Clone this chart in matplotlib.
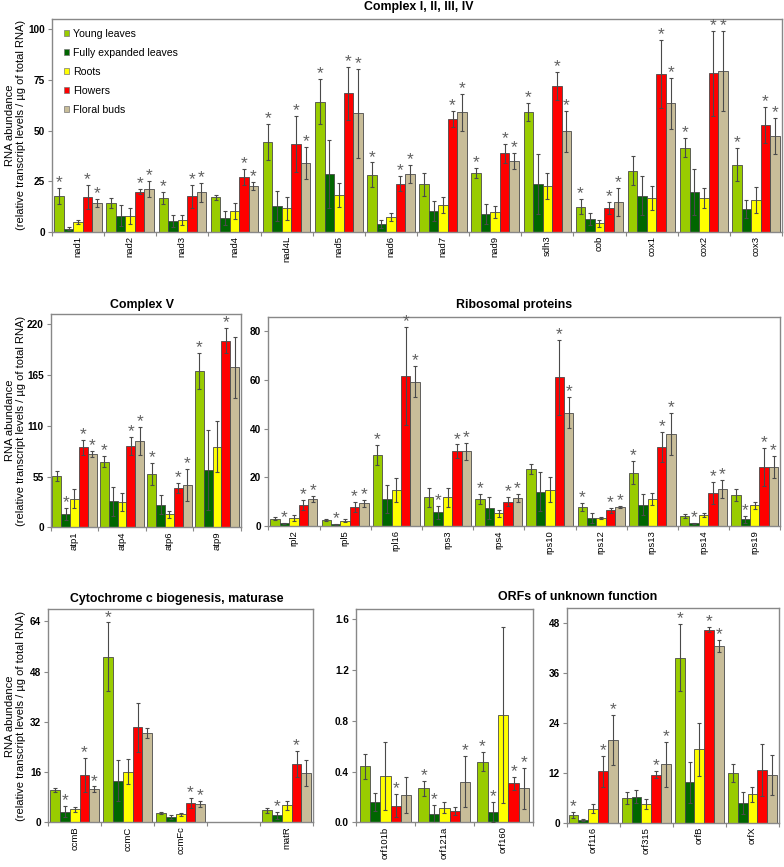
import numpy as np
import matplotlib
matplotlib.use("Agg")
import matplotlib.pyplot as plt
from matplotlib.patches import Patch
from matplotlib import font_manager

plt.rcParams['font.family'] = ['Liberation Sans', 'DejaVu Sans']

tissues = ['Young leaves', 'Fully expanded leaves', 'Roots', 'Flowers', 'Floral buds']
colors = ['#99cc00', '#006600', '#ffff00', '#ff0000', '#c8bd99']

# ---- Complex I, II, III, IV ----
c1_genes = ['nad1', 'nad2', 'nad3', 'nad4', 'nad4L', 'nad5', 'nad6', 'nad7', 'nad9',
            'sdh3', 'cob', 'cox1', 'cox2', 'cox3']
c1_mean = [[17.6, 1.5, 4.8, 17.3, 14.0], [14.0, 8.0, 7.7, 19.8, 20.9],
           [16.6, 5.1, 5.8, 17.5, 19.4], [17.1, 6.8, 10.4, 27.2, 22.6],
           [44.3, 12.7, 11.5, 43.3, 33.9], [64.3, 28.3, 18.0, 68.4, 58.6],
           [28.2, 4.0, 7.1, 23.6, 28.5], [23.4, 10.4, 13.0, 55.5, 59.0],
           [28.8, 8.9, 9.6, 38.7, 35.1], [59.1, 23.6, 22.4, 72.0, 49.6],
           [12.4, 6.1, 4.1, 11.7, 14.7], [30.1, 17.8, 16.8, 77.9, 63.4],
           [41.5, 19.6, 16.5, 78.3, 79.4], [33.1, 11.2, 15.7, 52.6, 47.3]]
c1_err = [[4, 0.8, 1, 6, 2], [2.5, 5, 4, 1.2, 4], [3, 3, 2.5, 5.7, 4.6],
          [1.2, 3.6, 4, 4, 1.8], [9, 7.5, 5.5, 14, 7.8], [11, 16.8, 6, 13, 22],
          [6, 2, 2, 3.7, 4.5], [5.7, 5, 4, 4, 9], [2.5, 5, 3, 4.8, 4],
          [4.3, 15, 6.4, 7, 10], [3.6, 3, 1.8, 2.8, 7], [7.2, 9.5, 6, 17, 12.7],
          [4.6, 11.5, 5, 21, 20], [8.2, 4.5, 6.5, 8.8, 8.8]]
c1_sig = ['10011', '00011', '10011', '00011', '10011', '10011', '10011', '00011',
          '10011', '10011', '10011', '00011', '10011', '10011']

# ---- Complex V ----
c5_genes = ['atp1', 'atp4', 'atp6', 'atp9']
c5_mean = [[55.6, 14.4, 31.0, 86.7, 79.5], [71.2, 28.2, 27.8, 88.1, 93.6],
           [58.2, 24.2, 14.1, 43.0, 45.9], [169.8, 62.1, 87.4, 202.3, 173.4]]
c5_err = [[5.4, 6.3, 10, 8.3, 2.9], [6, 15.5, 9.6, 10, 14.8],
          [12, 10.3, 4, 5.4, 17.7], [19.5, 43, 28, 13.5, 33]]
c5_sig = ['01011', '10011', '10011', '10010']

# ---- Ribosomal proteins ----
rib_genes = ['rpl2', 'rpl5', 'rpl16', 'rps3', 'rps4', 'rps10', 'rps12', 'rps13', 'rps14', 'rps19']
rib_mean = [[3.0, 1.1, 3.4, 8.6, 11.2], [2.5, 0.7, 2.1, 7.7, 9.3],
            [29.2, 11.1, 14.8, 61.6, 59.3], [11.8, 5.6, 11.8, 30.8, 30.7],
            [11.0, 7.4, 5.2, 10.0, 11.4], [23.3, 14.1, 14.9, 61.1, 46.6],
            [7.7, 3.3, 3.2, 6.4, 7.8], [21.9, 8.8, 11.1, 32.5, 37.8],
            [4.0, 1.1, 4.5, 13.6, 15.1], [12.6, 2.7, 8.5, 24.2, 24.1]]
rib_err = [[0.5, 0.3, 1.2, 2, 1.3], [0.4, 0.2, 0.6, 2.1, 1.4], [4.2, 5.8, 4.9, 20, 6.4],
           [3.8, 2.6, 4, 2.7, 3.6], [2, 4.4, 1.4, 1.8, 1.7], [2, 7.9, 5.1, 15.3, 6.4],
           [1.7, 1.9, 0.5, 0.9, 0.4], [4.8, 4.2, 2.4, 6.2, 8.7], [0.8, 0.3, 0.7, 4.6, 3.8],
           [2.5, 1.6, 1.5, 7.8, 4.5]]
rib_sig = ['01011', '01011', '10011', '01011', '10011', '00011', '10011', '10011',
           '01011', '01011']

# ---- Cytochrome c biogenesis, maturase (one empty slot) ----
cyt_genes = ['ccmB', 'ccmC', 'ccmFc', '', 'matR']
cyt_mean = [[10.2, 3.4, 4.1, 15.1, 10.5], [52.7, 13.2, 16.1, 30.2, 28.3],
            [3.1, 1.7, 2.5, 6.0, 5.9], [np.nan] * 5, [3.9, 2.2, 5.4, 18.5, 15.6]]
cyt_err = [[0.6, 1.7, 0.7, 5.3, 0.9], [10.9, 6.5, 4, 7.9, 1.6],
           [0.3, 0.7, 0.5, 1.6, 1.0], [np.nan] * 5, [0.8, 1.2, 1.5, 4.2, 4.2]]
cyt_sig = ['01011', '10000', '00011', '00000', '01010']

# ---- ORFs of unknown function ----
orf1_genes = ['orf101b', 'orf121a', 'orf160']
orf1_mean = [[0.44, 0.163, 0.365, 0.13, 0.215], [0.268, 0.066, 0.116, 0.089, 0.32],
             [0.478, 0.081, 0.846, 0.307, 0.268]]
orf1_err = [[0.095, 0.07, 0.27, 0.09, 0.14], [0.06, 0.07, 0.045, 0.035, 0.2],
            [0.077, 0.08, 0.69, 0.05, 0.16]]
orf1_sig = ['00010', '11001', '11011']

orf2_genes = ['orf116', 'orf315', 'orfB', 'orfX']
orf2_mean = [[1.77, 0.64, 3.4, 12.4, 19.9], [5.9, 6.3, 4.4, 11.6, 14.1],
             [39.7, 9.7, 17.7, 46.4, 42.5], [12.0, 4.7, 6.9, 12.7, 11.5]]
orf2_err = [[0.7, 0.3, 1.1, 3.7, 6], [1.4, 1.6, 1.2, 0.8, 5.4],
            [8.1, 4.9, 6.4, 0.6, 1.5], [2.1, 2.6, 1.8, 6.2, 4.8]]
orf2_sig = ['10011', '00011', '10011', '00000']

ylabel_txt = 'RNA abundance\n(relative transcript levels / \u00b5g of total RNA)'

names = {f.name for f in font_manager.fontManager.ttflist}
if 'Liberation Sans Narrow' in names:
    xlab_font = dict(family='Liberation Sans Narrow', fontsize=8.2)
else:
    xlab_font = dict(family='Liberation Sans', fontsize=6.8)

W, H = 784, 867
fig = plt.figure(figsize=(W / 100, H / 100), dpi=100)


def px_axes(l, t, r, b):
    return fig.add_axes([l / W, 1 - b / H, (r - l) / W, (b - t) / H])


def panel(ax, genes, means, errs, sigs, ytop, yticks, fmt, group_w):
    n = len(genes)
    x = np.arange(n)
    bw = group_w / 5
    means = np.array(means, dtype=float)
    errs = np.array(errs, dtype=float)
    for j in range(5):
        xs = x + (j - 2) * bw
        ax.bar(xs, means[:, j], bw, color=colors[j], edgecolor='#4a4a4a',
               linewidth=0.6, zorder=2)
        ax.errorbar(xs, means[:, j], yerr=errs[:, j], fmt='none', ecolor='#4a4a4a',
                    elinewidth=0.8, capsize=1.2, capthick=0.8, zorder=3)
        for i in range(n):
            if sigs[i][j] == '1':
                ax.annotate('*', xy=(xs[i], means[i, j] + errs[i, j]), xytext=(0, 0.6),
                            textcoords='offset points', ha='center', va='baseline',
                            fontsize=12.5, color='#5f5f5f', annotation_clip=False, zorder=4)
    ax.set_xlim(-0.5, n - 0.5)
    ax.set_ylim(0, ytop)
    ax.set_yticks(yticks)
    ax.set_yticklabels([fmt.format(v) for v in yticks], fontsize=7.2, fontweight='bold')
    ax.set_xticks(x)
    ax.set_xticklabels(genes, rotation=90, va='top', ha='center', **xlab_font)
    ax.set_xticks(np.arange(n + 1) - 0.5, minor=True)
    ax.tick_params(axis='x', which='major', length=0, pad=3)
    ax.tick_params(axis='x', which='minor', length=3, color='#888888', width=0.8)
    ax.tick_params(axis='y', length=3, color='#888888', width=0.8, pad=2)
    for s in ax.spines.values():
        s.set_color('#888888')
        s.set_linewidth(1.0)


ax1 = px_axes(52, 19, 782, 231.7)
panel(ax1, c1_genes, c1_mean, c1_err, c1_sig, 105.1, [0, 25, 50, 75, 100], '{:.0f}', 0.91)
handles = [Patch(facecolor=c, edgecolor='#777777', linewidth=0.5) for c in colors]
ax1.legend(handles, tissues, loc='upper left', bbox_to_anchor=(0.016, 0.955),
           frameon=False, fontsize=7.6, handlelength=0.55, handleheight=0.55,
           handletextpad=0.35, labelspacing=0.86, borderpad=0, borderaxespad=0)

ax2 = px_axes(50.7, 314, 240.7, 527.3)
panel(ax2, c5_genes, c5_mean, c5_err, c5_sig, 231.2, [0, 55, 110, 165, 220], '{:.0f}', 0.93)

ax3 = px_axes(268.3, 316.7, 780.3, 526)
panel(ax3, rib_genes, rib_mean, rib_err, rib_sig, 86.0, [0, 20, 40, 60, 80], '{:.0f}', 0.92)

ax4 = px_axes(48.3, 609.3, 313.3, 822.3)
panel(ax4, cyt_genes, cyt_mean, cyt_err, cyt_sig, 67.8, [0, 16, 32, 48, 64], '{:.0f}', 0.92)

ax5 = px_axes(356, 609.3, 532.7, 822.3)
panel(ax5, orf1_genes, orf1_mean, orf1_err, orf1_sig, 1.679, [0, 0.4, 0.8, 1.2, 1.6], '{:.1f}', 0.88)

ax6 = px_axes(566.7, 608.3, 779, 822.7)
panel(ax6, orf2_genes, orf2_mean, orf2_err, orf2_sig, 51.6, [0, 12, 24, 36, 48], '{:.0f}', 0.93)

tkw = dict(ha='center', va='center', fontsize=8.9, fontweight='bold')
fig.text(419 / W, 1 - 7 / H, 'Complex I, II, III, IV', **tkw)
fig.text(141.5 / W, 1 - 305 / H, 'Complex V', **tkw)
fig.text(514.5 / W, 1 - 305 / H, 'Ribosomal proteins', **tkw)
fig.text(177 / W, 1 - 599 / H, 'Cytochrome c biogenesis, maturase', **tkw)
fig.text(578 / W, 1 - 597 / H, 'ORFs of unknown function', **tkw)

lkw = dict(rotation=90, ha='center', va='center', fontsize=8, multialignment='center',
           linespacing=1.15)
fig.text(15.5 / W, 1 - 125.3 / H, ylabel_txt, **lkw)
fig.text(15.5 / W, 1 - 420.6 / H, ylabel_txt, **lkw)
fig.text(15.5 / W, 1 - 715.8 / H, ylabel_txt, **lkw)

fig.savefig('out.png', dpi=100)
